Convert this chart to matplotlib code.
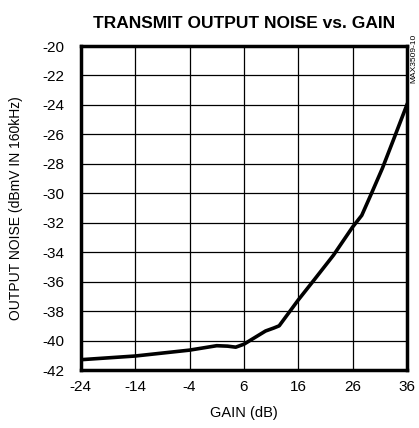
import matplotlib
matplotlib.use("Agg")
import matplotlib.pyplot as plt

plt.rcParams['font.family'] = ['Liberation Sans', 'DejaVu Sans']

# Data
gain = [-24, -14, -4, 1, 3, 4.5, 6, 8, 10, 11.5, 12.5, 14, 16, 19, 22.5, 26, 27.7, 29.5, 31.5, 33.5, 36]
noise = [-41.3, -41.05, -40.65, -40.35, -40.38, -40.45, -40.25, -39.8, -39.35, -39.15, -39.0,
         -38.25, -37.25, -35.85, -34.2, -32.3, -31.5, -30.0, -28.3, -26.4, -24.0]

xticks = [-24, -14, -4, 6, 16, 26, 36]
yticks = list(range(-42, -19, 2))

fig = plt.figure(figsize=(4.19, 4.28), dpi=100)
ax = fig.add_axes([0.193, 0.1355, 0.778, 0.757])

ax.plot(gain, noise, color='black', linewidth=2.6, solid_joinstyle='round')

ax.set_xlim(-24, 36)
ax.set_ylim(-42, -20)
ax.set_xticks(xticks)
ax.set_yticks(yticks)
ax.set_xticklabels([str(t) for t in xticks])
ax.set_yticklabels([str(t) for t in yticks])
ax.tick_params(length=0, labelsize=11)
ax.tick_params(axis='x', pad=7)
ax.tick_params(axis='y', pad=12)
ax.grid(True, color='black', linewidth=0.9)
for s in ax.spines.values():
    s.set_linewidth(2.5)

ax.set_xlabel("GAIN (dB)", fontsize=10.5, labelpad=9)
ax.set_ylabel("OUTPUT NOISE (dBmV IN 160kHz)", fontsize=10, labelpad=14)
ax.set_title("TRANSMIT OUTPUT NOISE vs. GAIN", fontsize=12.5, fontweight='bold', pad=13)

fig.text(0.987, 0.92, "MAX3509-10", rotation=90, fontsize=6, ha='center', va='top')

plt.savefig("out.png", dpi=100)
